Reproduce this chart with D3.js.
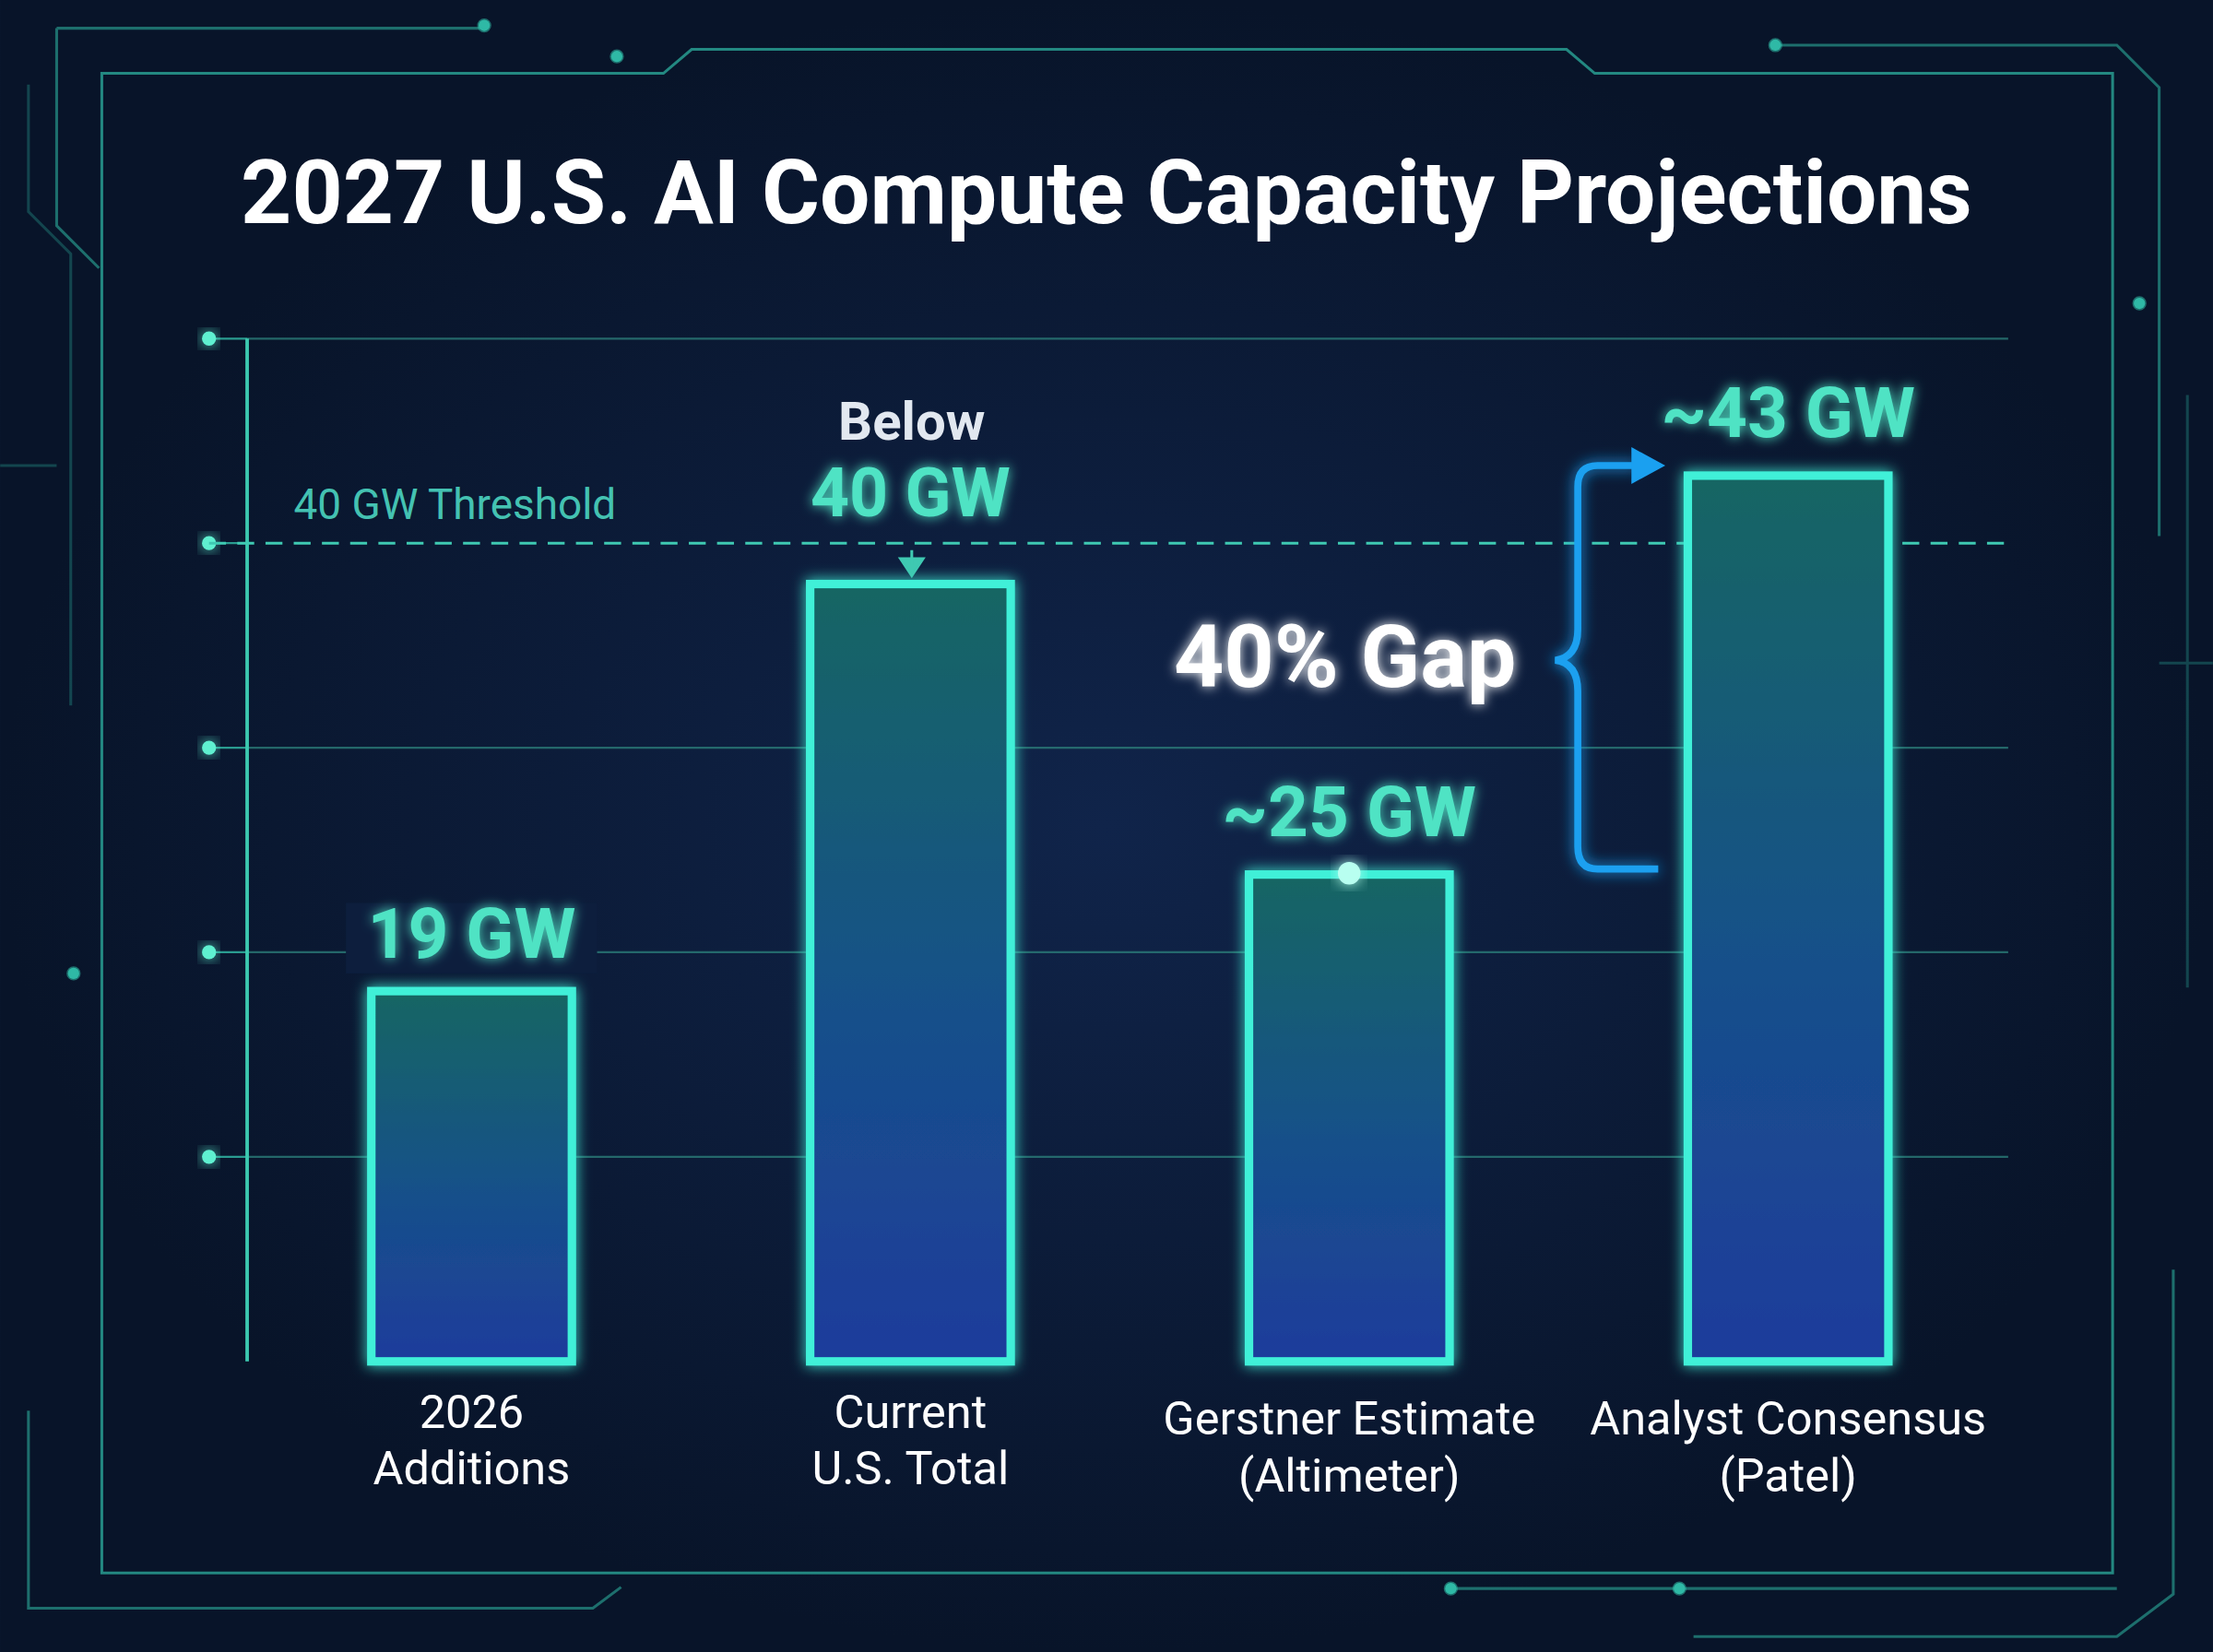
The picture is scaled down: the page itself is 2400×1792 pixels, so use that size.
<!DOCTYPE html>
<html><head><meta charset="utf-8">
<script src="https://cdn.jsdelivr.net/npm/d3@7"></script>
<style>body{margin:0;background:#0b1831;}svg{display:block}</style>
</head><body>
<script>
const categories = ["2026\nAdditions","Current\nU.S. Total","Gerstner Estimate\n(Altimeter)","Analyst Consensus\n(Patel)"];
const values = [18.1, 38, 23.8, 43.3];
const valueLabels = ["19 GW","40 GW","~25 GW","~43 GW"];
const yTicks = [10,20,30,40,50];
const threshold = 40;

const W=1568,H=1171;
const svg=d3.select("body").append("svg").attr("width",2400).attr("height",1792).attr("viewBox",`0 0 ${W} ${H}`);
const defs=svg.append("defs");
const bg=defs.append("radialGradient").attr("id","bg");
bg.append("stop").attr("offset","0%").attr("stop-color","#10244a");
bg.append("stop").attr("offset","100%").attr("stop-color","#081429");
const bar=defs.append("linearGradient").attr("id","bar").attr("x1",0).attr("x2",0).attr("y1",0).attr("y2",1);
bar.append("stop").attr("offset","0%").attr("stop-color","#136663");
bar.append("stop").attr("offset","55%").attr("stop-color","#17508a");
bar.append("stop").attr("offset","100%").attr("stop-color","#1e3c9c");
const glow=defs.append("filter").attr("id","glow").attr("x","-30%").attr("y","-30%").attr("width","160%").attr("height","160%");
glow.append("feGaussianBlur").attr("stdDeviation",5).attr("result","b");
const m=glow.append("feMerge");m.append("feMergeNode").attr("in","b");m.append("feMergeNode").attr("in","SourceGraphic");
const tglow=defs.append("filter").attr("id","tglow").attr("x","-20%").attr("y","-50%").attr("width","140%").attr("height","200%");
tglow.append("feGaussianBlur").attr("stdDeviation",4).attr("result","b");
const m2=tglow.append("feMerge");m2.append("feMergeNode").attr("in","b");m2.append("feMergeNode").attr("in","SourceGraphic");

svg.append("rect").attr("width",W).attr("height",H).attr("fill","url(#bg)");
const frame=svg.append("g").attr("fill","none").attr("stroke","#2fb9a6").attr("stroke-opacity",0.55).attr("stroke-width",2);
frame.append("path").attr("d","M72,52 H470 L490,35 H1110 L1130,52 H1497 V1115 H72 Z").attr("stroke-opacity",0.7);
frame.append("path").attr("d","M40,20 H340 M40,20 V160 L70,190 M1260,32 H1500 L1530,62 V380 M1540,900 V1130 L1500,1160 H1200 M20,1000 V1140 H420 L440,1125 M1030,1126 H1500");
frame.append("path").attr("d","M20,60 V150 L50,180 V500 M1550,280 V700 M0,330 H40 M1530,470 H1568").attr("stroke-opacity",0.3);
[[343,18],[437,40],[1258,32],[1028,1126],[1190,1126],[1516,215],[52,690]].forEach(p=>frame.append("circle").attr("cx",p[0]).attr("cy",p[1]).attr("r",4).attr("fill","#2fb9a6"));

svg.append("text").attr("x",784).attr("y",158).attr("text-anchor","middle").attr("fill","#fff")
 .attr("font-family","Roboto").attr("font-weight",700).attr("font-size",63).text("2027 U.S. AI Compute Capacity Projections");

const x0=175,x1=1425,yb=965;
const y=d3.scaleLinear().domain([0,50]).range([yb,240]);
const x=d3.scaleBand().domain(categories).range([169.7,1431.4]).paddingInner(0.543).paddingOuter(0.3);

const grid=svg.append("g");
yTicks.forEach(t=>{
 if(t!==threshold) grid.append("line").attr("x1",x0).attr("x2",x1-2).attr("y1",y(t)).attr("y2",y(t)).attr("stroke","#2a7c78").attr("stroke-width",1.5).attr("stroke-opacity",0.8);
 grid.append("line").attr("x1",148).attr("x2",x0).attr("y1",y(t)).attr("y2",y(t)).attr("stroke","#2a9c90").attr("stroke-width",1.5);
 grid.append("circle").attr("cx",148).attr("cy",y(t)).attr("r",5).attr("fill","#5ff0d0").attr("filter","url(#glow)");
});
svg.append("line").attr("x1",x0).attr("x2",x0).attr("y1",240).attr("y2",yb).attr("stroke","#3cc9b0").attr("stroke-width",2.5);
svg.append("line").attr("x1",x0).attr("x2",x1).attr("y1",yb).attr("y2",yb).attr("stroke","#3cd9c0").attr("stroke-width",3).attr("filter","url(#glow)");
svg.append("line").attr("x1",148).attr("x2",x1).attr("y1",y(threshold)).attr("y2",y(threshold)).attr("stroke","#3fc9b2").attr("stroke-width",2).attr("stroke-dasharray","12,8");
svg.append("text").attr("x",208).attr("y",368).attr("fill","#44c2b2").attr("font-family","Roboto").attr("font-size",30).text("40 GW Threshold");

const g=svg.append("g");
categories.forEach((c,i)=>{
 const bx=x(c),bw=x.bandwidth(),top=y(values[i]);
 g.append("rect").attr("x",bx).attr("y",top).attr("width",bw).attr("height",yb-top).attr("fill","url(#bar)")
  .attr("stroke","#3ff0d8").attr("stroke-width",6).attr("filter","url(#glow)");
 const t=svg.append("text").attr("text-anchor","middle").attr("fill","#fff").attr("font-family","Roboto").attr("font-size",33);
 c.split("\n").forEach((s,j)=>t.append("tspan").attr("x",bx+bw/2).attr("y",(i<2?1012:1017)+j*40).text(s));
});
const lab=(i,dy,txt,size)=>svg.append("text").attr("x",x(categories[i])+x.bandwidth()/2).attr("y",dy).attr("text-anchor","middle")
 .attr("fill","#4fe3c4").attr("font-family","Roboto").attr("font-weight",700).attr("font-size",size||50).attr("filter","url(#tglow)").text(txt);
svg.append("rect").attr("x",245).attr("y",640).attr("width",178).attr("height",50).attr("fill","#0d1e3d");
lab(0,679,valueLabels[0]);
svg.append("text").attr("x",646).attr("y",312).attr("text-anchor","middle").attr("fill","#e2e8f0").attr("font-family","Roboto").attr("font-weight",700).attr("font-size",38).text("Below");
lab(1,366,valueLabels[1],48);
svg.append("path").attr("d","M646,390 V400 M638,396 L646,408 L654,396 Z").attr("stroke","#3fc9b2").attr("fill","#3fc9b2").attr("stroke-width",2);
lab(2,593,valueLabels[2]);
svg.append("circle").attr("cx",956).attr("cy",619).attr("r",8).attr("fill","#b8fff0").attr("filter","url(#glow)");
lab(3,310,valueLabels[3]);
svg.append("path").attr("d","M1175,616 H1132 Q1118,616 1118,600 V490 Q1118,470 1102,468 Q1118,466 1118,446 V345 Q1118,330 1132,330 H1160")
 .attr("fill","none").attr("stroke","#1aa0f0").attr("stroke-width",5).attr("filter","url(#glow)");
svg.append("path").attr("d","M1156,317 L1180,330 L1156,343 Z").attr("fill","#1aa0f0");
svg.append("text").attr("x",953).attr("y",487).attr("text-anchor","middle").attr("fill","#fff").attr("font-family","Roboto").attr("font-weight",700).attr("font-size",62).attr("filter","url(#tglow)").text("40% Gap");
</script>
</body></html>
